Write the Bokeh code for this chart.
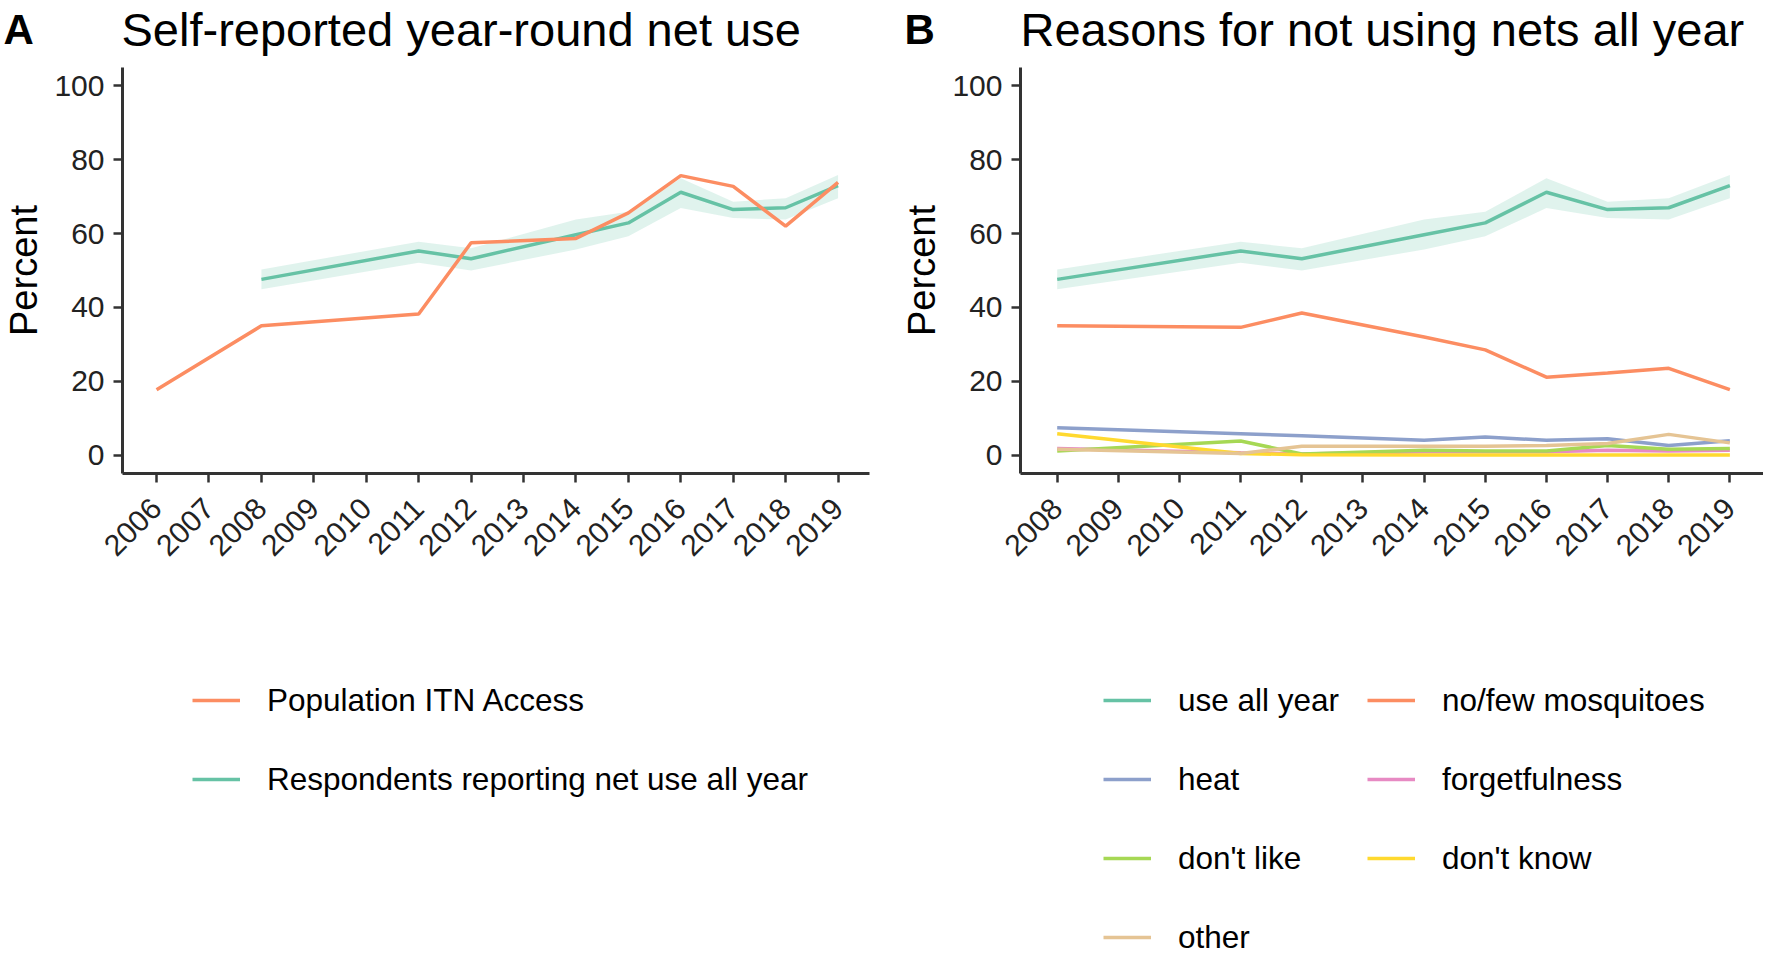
import numpy as np
from bokeh.plotting import figure
from bokeh.models import Legend, LegendItem, Label, FixedTicker, Range1d
from bokeh.layouts import row, column
from bokeh.embed import file_html
from bokeh.resources import INLINE

FONT = "Liberation Sans"

# ---------------- data ----------------
years_a = list(range(2006, 2020))
years_b = list(range(2008, 2020))

access_years = [2006, 2008, 2011, 2012, 2014, 2015, 2016, 2017, 2018, 2019]
access_pct = [17.7, 35.0, 38.2, 57.5, 58.7, 65.6, 75.7, 72.8, 62.0, 73.9]

survey_years = [2008, 2011, 2012, 2014, 2015, 2016, 2017, 2018, 2019]
use_all_year = [47.6, 55.3, 53.2, 59.7, 62.9, 71.2, 66.5, 67.0, 73.0]
use_lower = [44.9, 52.1, 50.0, 55.7, 59.3, 66.9, 64.2, 63.8, 69.6]
use_upper = [50.3, 57.8, 56.0, 63.8, 65.9, 75.0, 68.6, 69.6, 75.9]
no_few_mosquitoes = [35.0, 34.6, 38.5, 32.0, 28.5, 21.1, 22.2, 23.5, 17.7]
heat = [7.4, 5.8, 5.2, 4.0, 4.9, 4.0, 4.4, 2.6, 3.9]
forgetfulness = [1.8, 0.6, 0.3, 0.9, 0.9, 0.9, 1.3, 1.1, 1.3]
dont_like = [1.1, 3.8, 0.3, 1.3, 1.1, 1.1, 2.6, 1.6, 1.8]
dont_know = [5.8, 0.4, 0.1, 0.0, 0.0, 0.0, 0.0, 0.0, 0.0]
other = [1.6, 0.4, 2.4, 2.4, 2.4, 2.6, 3.1, 5.6, 3.3]

y_ticks = [0, 20, 40, 60, 80, 100]

title_a = "Self-reported year-round net use"
title_b = "Reasons for not using nets all year"
legend_a = ["Population ITN Access", "Respondents reporting net use all year"]

C_GREEN = "#66C2A5"
C_ORANGE = "#FC8D62"
C_BLUE = "#8DA0CB"
C_PINK = "#E78AC3"
C_LIME = "#A6D854"
C_YELLOW = "#FFD92F"
C_TAN = "#E5C494"

AXIS_COL = "#333333"
LW = 3.5
TOTAL_W = 1762
HEADER_H = 67
MAIN_H = 556
LEG_H = 333


def blank(p):
    p.outline_line_color = None
    p.xgrid.visible = False
    p.ygrid.visible = False


def style(p, xticks):
    blank(p)
    for ax in (p.xaxis[0], p.yaxis[0]):
        ax.axis_line_color = AXIS_COL
        ax.axis_line_width = 3
        ax.major_tick_line_color = AXIS_COL
        ax.major_tick_line_width = 2.5
        ax.major_tick_out = 9
        ax.major_tick_in = 0
        ax.minor_tick_line_color = None
        ax.major_label_text_font = FONT
        ax.major_label_text_font_size = "30px"
        ax.major_label_text_color = "#222222"
    p.yaxis.ticker = FixedTicker(ticks=y_ticks)
    p.yaxis.major_label_standoff = 9
    p.yaxis.axis_label = "Percent"
    p.yaxis.axis_label_text_font = FONT
    p.yaxis.axis_label_text_font_size = "38px"
    p.yaxis.axis_label_text_font_style = "normal"
    p.yaxis.axis_label_text_color = "black"
    p.yaxis.axis_label_standoff = 6
    p.xaxis.ticker = FixedTicker(ticks=xticks)
    p.xaxis.major_label_orientation = np.pi / 4
    p.xaxis.major_label_standoff = 21


# ---------------- header (panel letters and titles) ----------------
hdr = figure(frame_width=TOTAL_W, frame_height=HEADER_H, min_border=0,
             x_range=Range1d(0, TOTAL_W), y_range=Range1d(HEADER_H, 0),
             x_axis_type=None, y_axis_type=None,
             output_backend="svg", toolbar_location=None)
blank(hdr)
for x, txt, size, style_ in [(3, "A", "42px", "bold"), (121, title_a, "47px", "normal"),
                             (904, "B", "42px", "bold"), (1020, title_b, "47px", "normal")]:
    hdr.add_layout(Label(x=x, y=29, text=txt, text_font=FONT, text_font_size=size,
                         text_font_style=style_, text_color="black", text_baseline="alphabetic"))

# ---------------- panel A ----------------
pa = figure(frame_width=747, frame_height=406, min_border_left=121, min_border_right=12,
            min_border_top=0, min_border_bottom=MAIN_H - 406,
            x_range=Range1d(2005.35, 2019.6), y_range=Range1d(-5, 105),
            output_backend="svg", toolbar_location=None)
style(pa, years_a)
pa.varea(x=survey_years, y1=use_lower, y2=use_upper, fill_color=C_GREEN, fill_alpha=0.2)
pa.line(survey_years, use_all_year, line_color=C_GREEN, line_width=LW)
pa.line(access_years, access_pct, line_color=C_ORANGE, line_width=LW)

# ---------------- panel B ----------------
pb = figure(frame_width=743, frame_height=406, min_border_left=139, min_border_right=0,
            min_border_top=0, min_border_bottom=MAIN_H - 406,
            x_range=Range1d(2007.4, 2019.55), y_range=Range1d(-5, 105),
            output_backend="svg", toolbar_location=None)
style(pb, years_b)
pb.varea(x=survey_years, y1=use_lower, y2=use_upper, fill_color=C_GREEN, fill_alpha=0.2)
series = [
    ("use all year", use_all_year, C_GREEN),
    ("no/few mosquitoes", no_few_mosquitoes, C_ORANGE),
    ("heat", heat, C_BLUE),
    ("forgetfulness", forgetfulness, C_PINK),
    ("don't like", dont_like, C_LIME),
    ("don't know", dont_know, C_YELLOW),
    ("other", other, C_TAN),
]
for name, vals, col in series:
    pb.line(survey_years, vals, line_color=col, line_width=LW)

# ---------------- legends (shared strip under both panels) ----------------
# the strip's own ranges leave the key renderers' data outside its frame,
# so only their legend samples are shown
lg = figure(frame_width=TOTAL_W, frame_height=LEG_H, min_border=0,
            x_range=Range1d(0, 1), y_range=Range1d(0, 1),
            x_axis_type=None, y_axis_type=None,
            output_backend="svg", toolbar_location=None)
blank(lg)


def key(xs, ys, col):
    return lg.line(xs, ys, line_color=col, line_width=LW)


def make_legend(entries, vx, vy):
    return Legend(items=[LegendItem(label=n, renderers=[key(xs, ys, c)]) for n, xs, ys, c in entries],
                  location=(vx, vy), orientation="vertical",
                  glyph_width=48, glyph_height=40, label_height=40, label_standoff=27,
                  spacing=39, padding=0, margin=0, border_line_color=None,
                  background_fill_alpha=0, label_text_font=FONT,
                  label_text_font_size="31.5px", label_text_color="black")


lg.add_layout(make_legend([(legend_a[0], access_years, access_pct, C_ORANGE),
                           (legend_a[1], survey_years, use_all_year, C_GREEN)], 192, 157))
lg.add_layout(make_legend([(series[i][0], survey_years, series[i][1], series[i][2]) for i in (0, 2, 4, 6)],
                          1103, -1))
lg.add_layout(make_legend([(series[i][0], survey_years, series[i][1], series[i][2]) for i in (1, 3, 5)],
                          1367, 78))

layout = column(hdr, row(pa, pb), lg)
open("out.html", "w").write(file_html(layout, INLINE))
